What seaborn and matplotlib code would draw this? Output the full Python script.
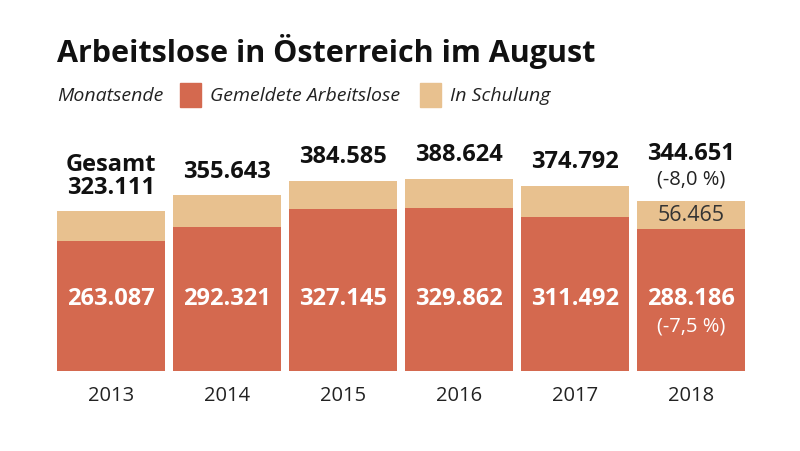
import matplotlib
matplotlib.use("Agg")
import matplotlib.pyplot as plt
import seaborn as sns
import pandas as pd

# Data (in thousands, as printed)
years = ["2013", "2014", "2015", "2016", "2017", "2018"]
gemeldet = [263.087, 292.321, 327.145, 329.862, 311.492, 288.186]
schulung = [60.024, 63.322, 57.440, 58.762, 63.300, 56.465]
gesamt = [323.111, 355.643, 384.585, 388.624, 374.792, 344.651]
gesamt_labels = ["323.111", "355.643", "384.585", "388.624", "374.792", "344.651"]
gemeldet_labels = ["263.087", "292.321", "327.145", "329.862", "311.492", "288.186"]
schulung_label_2018 = "56.465"

RED = "#D4694F"
TAN = "#E8C18F"
_FONT = "Open Sans"

sns.set_theme(style="white")
plt.rcParams["font.family"] = [_FONT, "DejaVu Sans"]

df = pd.DataFrame({"jahr": years, "gemeldet": gemeldet, "gesamt": gesamt})

fig = plt.figure(figsize=(8, 4.52), dpi=100)
ax = fig.add_axes([0.066, 0.177, 0.87, 0.47])

sns.barplot(data=df, x="jahr", y="gesamt", color=TAN, saturation=1, width=0.93,
            linewidth=0, ax=ax)
sns.barplot(data=df, x="jahr", y="gemeldet", color=RED, saturation=1, width=0.93,
            linewidth=0, ax=ax)

ax.set_xlim(-0.5, len(years) - 0.5)
ax.set_ylim(0, 430)
sns.despine(ax=ax, left=True, bottom=True)
ax.set_yticks([])
ax.set_xlabel("")
ax.set_ylabel("")
ax.tick_params(axis="x", length=0, pad=10, labelsize=14.5, labelcolor="#222222")

# values inside red bars
for i, lab in enumerate(gemeldet_labels):
    ax.text(i, 147, lab, ha="center", va="center", color="white",
            fontsize=17, fontweight="bold")
ax.text(5, 92, "(-7,5 %)", ha="center", va="center", color="white", fontsize=14.5)

# Schulung label for 2018
ax.text(5, gemeldet[5] + schulung[5] / 2, schulung_label_2018,
        ha="center", va="center", color="#333333", fontsize=15.5)

# totals above bars
for i, lab in enumerate(gesamt_labels):
    if i == 5:
        continue
    txt = "Gesamt\n" + lab if i == 0 else lab
    ax.annotate(txt, (i, gesamt[i]), xytext=(0, 9), textcoords="offset points",
                ha="center", va="bottom", fontsize=17, fontweight="bold",
                color="#111111", linespacing=0.95)
ax.annotate("(-8,0 %)", (5, gesamt[5]), xytext=(0, 9), textcoords="offset points",
            ha="center", va="bottom", fontsize=14.5, color="#222222")
ax.annotate(gesamt_labels[5], (5, gesamt[5]), xytext=(0, 26), textcoords="offset points",
            ha="center", va="bottom", fontsize=17, fontweight="bold", color="#111111")

# title and legend line
fig.text(0.071, 0.885, "Arbeitslose in Österreich im August", fontsize=22,
         fontweight="bold", color="#111111", va="center")
fig.text(0.071, 0.787, "Monatsende", fontsize=14, style="italic", color="#222222", va="center")
fig.patches.append(plt.Rectangle((0.225, 0.76), 0.026, 0.054, color=RED, transform=fig.transFigure))
fig.text(0.263, 0.787, "Gemeldete Arbeitslose", fontsize=14, style="italic", color="#222222", va="center")
fig.patches.append(plt.Rectangle((0.525, 0.76), 0.026, 0.054, color=TAN, transform=fig.transFigure))
fig.text(0.563, 0.787, "In Schulung", fontsize=14, style="italic", color="#222222", va="center")

fig.savefig("out.png", dpi=100, facecolor="white")
